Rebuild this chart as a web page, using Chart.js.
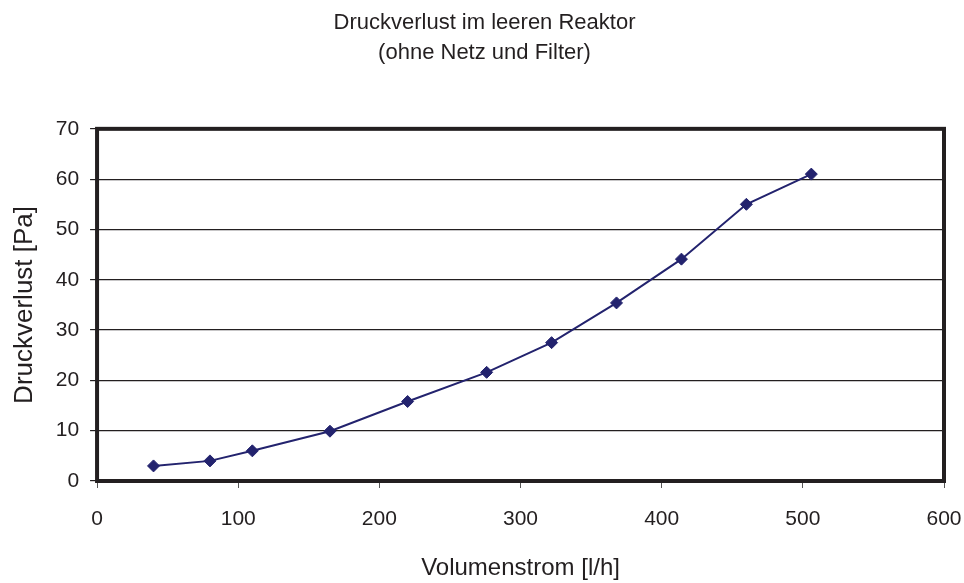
<!DOCTYPE html>
<html>
<head>
<meta charset="utf-8">
<script src="https://cdn.jsdelivr.net/npm/chart.js@4/dist/chart.umd.min.js"></script>
<style>
    html, body { margin: 0; padding: 0; background: #ffffff; }
    #wrap { width: 964px; height: 583px; }
</style>
</head>
<body>
<div id="wrap"><canvas id="chart" width="964" height="583"></canvas></div>
<script>
// ==================== DATA ====================
const volumenstrom = [40, 80, 110, 165, 220, 276, 322, 368, 414, 460, 506];
const druckverlust = [3, 4, 6, 9.9, 15.8, 21.6, 27.5, 35.4, 44.1, 55, 61];
const titleLines = ['Druckverlust im leeren Reaktor', '(ohne Netz und Filter)'];

const FONT = "'Liberation Sans', Arial, sans-serif";
const INK = '#231f20';
const NAVY = '#23236e';

// thick frame around the plot area
const framePlugin = {
    id: 'frame',
    afterDatasetsDraw(chart) {
        const a = chart.chartArea;
        const ctx = chart.ctx;
        ctx.save();
        ctx.strokeStyle = INK;
        ctx.lineWidth = 4;
        ctx.strokeRect(a.left, a.top, a.right - a.left, a.bottom - a.top);
        ctx.restore();
    }
};

const points = volumenstrom.map((x, i) => ({ x: x, y: druckverlust[i] }));

new Chart(document.getElementById('chart').getContext('2d'), {
    type: 'scatter',
    data: {
        datasets: [{
            data: points,
            showLine: true,
            borderColor: NAVY,
            backgroundColor: NAVY,
            borderWidth: 2,
            pointStyle: 'rectRot',
            pointRadius: 6,
            pointBorderWidth: 1
        }]
    },
    options: {
        responsive: false,
        animation: false,
        layout: { padding: { left: 9, right: 4, top: 0, bottom: 0 } },
        scales: {
            x: {
                type: 'linear',
                min: 0,
                max: 600,
                ticks: { stepSize: 100, color: INK, padding: 19, font: { family: FONT, size: 21 } },
                grid: { drawOnChartArea: false, color: '#555555', tickLength: 7, lineWidth: 1 },
                border: { display: false },
                title: { display: true, text: 'Volumenstrom [l/h]', color: INK, padding: { top: 3, bottom: 0 }, font: { family: FONT, size: 24 } },
                // keep only the room the last label really needs
                afterFit(scale) { scale.paddingRight = 20; }
            },
            y: {
                min: 0,
                max: 70,
                ticks: { stepSize: 10, color: INK, padding: 11, font: { family: FONT, size: 21 } },
                grid: { color: INK, tickLength: 7, lineWidth: 1.2 },
                border: { display: false },
                title: { display: true, text: 'Druckverlust [Pa]', color: INK, padding: { top: 0, bottom: 4.5 }, font: { family: FONT, size: 26 } }
            }
        },
        plugins: {
            legend: { display: false },
            tooltip: { enabled: false },
            title: {
                display: true,
                text: titleLines,
                color: INK,
                font: { family: FONT, size: 22, weight: 'normal', lineHeight: 1.36 },
                padding: { top: 8, bottom: 61 }
            }
        }
    },
    plugins: [framePlugin]
});
</script>
</body>
</html>
